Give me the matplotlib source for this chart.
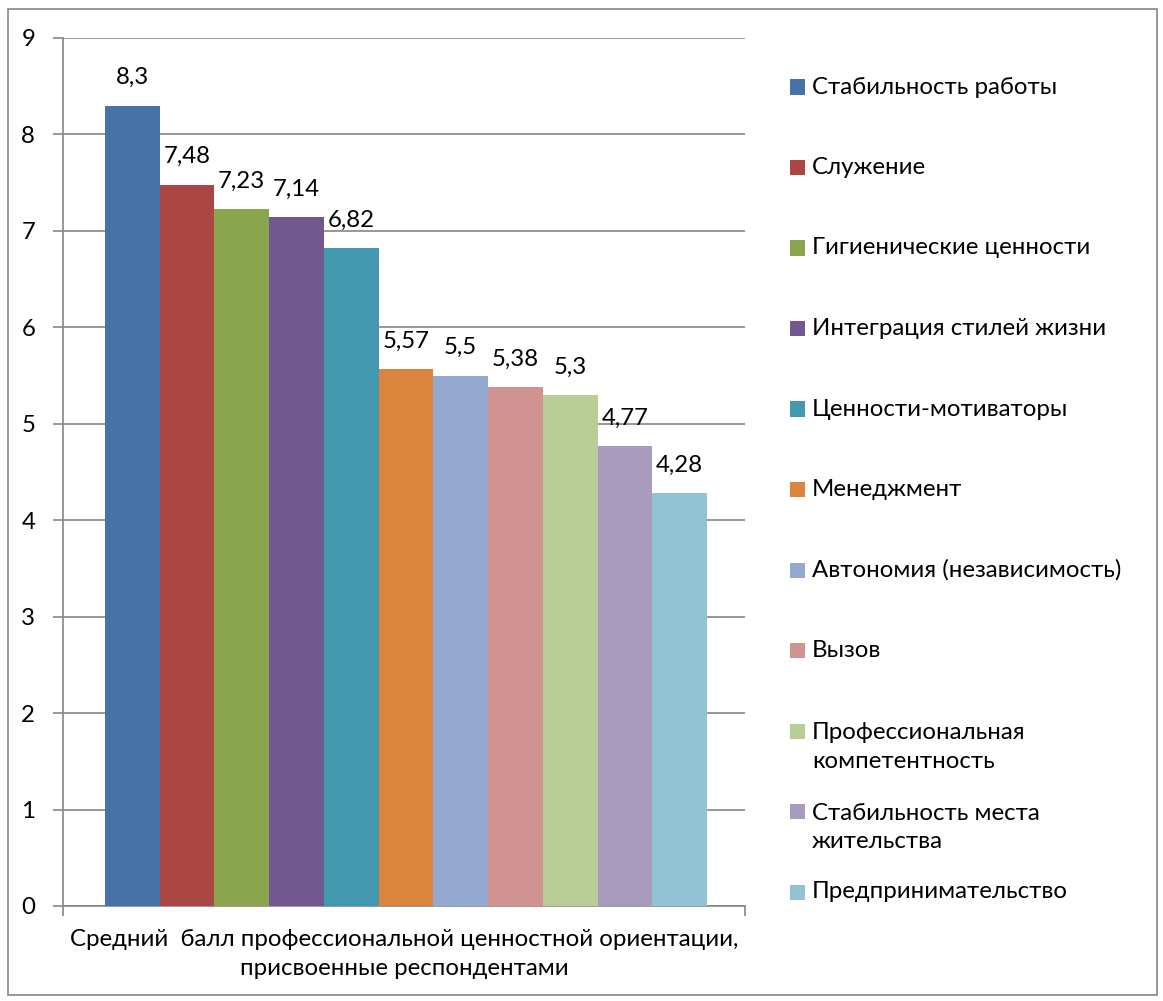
import matplotlib
matplotlib.use("Agg")
import matplotlib.pyplot as plt
from matplotlib.patches import Rectangle

categories = ["Стабильность работы", "Служение", "Гигиенические ценности",
              "Интеграция стилей жизни", "Ценности-мотиваторы", "Менеджмент",
              "Автономия (независимость)", "Вызов",
              "Профессиональная\nкомпетентность", "Стабильность места\nжительства",
              "Предпринимательство"]
values = [8.3, 7.48, 7.23, 7.14, 6.82, 5.57, 5.5, 5.38, 5.3, 4.77, 4.28]
value_labels = ["8,3", "7,48", "7,23", "7,14", "6,82", "5,57", "5,5", "5,38", "5,3", "4,77", "4,28"]
colors = ["#4572A7", "#AA4643", "#89A54E", "#71588F", "#4198AF", "#DB843D",
          "#93A9CF", "#D19392", "#B9CD96", "#A99BBD", "#92C3D4"]
x_label = "Средний  балл профессиональной ценностной ориентации,\nприсвоенные респондентами"
y_ticks = [0, 1, 2, 3, 4, 5, 6, 7, 8, 9]

plt.rcParams['font.family'] = ['Lato', 'DejaVu Sans']
FS = 17.3
LS = 1.45

W, H = 1163, 1001
fig = plt.figure(figsize=(W / 100, H / 100), dpi=100)

# figure border
fig.patches.append(Rectangle((8 / W, 1 - 995 / H), (1157 - 8) / W, (995 - 9) / H,
                             transform=fig.transFigure, fill=False,
                             edgecolor="#868686", linewidth=1.2))

ax = fig.add_axes([63 / W, 1 - 906 / H, (745 - 63) / W, (906 - 38) / H])

n = len(values)
bw = 1.0
positions = [i * bw for i in range(n)]
bars = ax.bar(positions, values, width=bw, color=colors, edgecolor="none", zorder=3)
for b, lab in zip(bars, value_labels):
    ax.annotate(lab, (b.get_x() + b.get_width() / 2, b.get_height()),
                xytext=(0, 20), textcoords="offset points", ha="center", va="center",
                fontsize=FS)

axis_units = (745 - 63) / ((707 - 105) / n)
left_pad = (105 - 63) / ((707 - 105) / n)
ax.set_xlim(-0.5 - left_pad, -0.5 - left_pad + axis_units)
ax.set_ylim(0, 9)
ax.set_yticks(y_ticks)
ax.set_yticklabels([str(t) for t in y_ticks], fontsize=FS)
ax.yaxis.grid(True, color="#868686", linewidth=1.2, zorder=0)
ax.set_axisbelow(True)

xmin, xmax = ax.get_xlim()
ax.set_xticks([xmin, xmax])
ax.set_xticklabels(["", ""])
ax.tick_params(axis="x", length=7, color="#868686", width=1.2, direction="out")
ax.tick_params(axis="y", length=7, color="#868686", width=1.2, direction="out", pad=13)
ax.text((xmin + xmax) / 2, -0.24, x_label, ha="center", va="top", fontsize=FS,
        linespacing=LS, transform=ax.transData)

for s in ["top", "right"]:
    ax.spines[s].set_visible(False)
for s in ["left", "bottom"]:
    ax.spines[s].set_color("#868686")
    ax.spines[s].set_linewidth(1.2)

# legend (manual, Excel-like even spacing; multi-line entries hang below slot)
y0, step, pitch = 87, 80.5, 32
for i, (cat, col) in enumerate(zip(categories, colors)):
    yc = y0 + step * i
    nlines = cat.count("\n") + 1
    center = yc + (nlines - 1) * pitch / 2
    fig.patches.append(Rectangle((790 / W, 1 - (yc + 7.5) / H), 15 / W, 15 / H,
                                 transform=fig.transFigure, facecolor=col,
                                 edgecolor="none"))
    fig.text(812 / W, 1 - center / H, cat, ha="left", va="center", fontsize=FS,
             linespacing=LS)

fig.savefig("out.png", dpi=100)
